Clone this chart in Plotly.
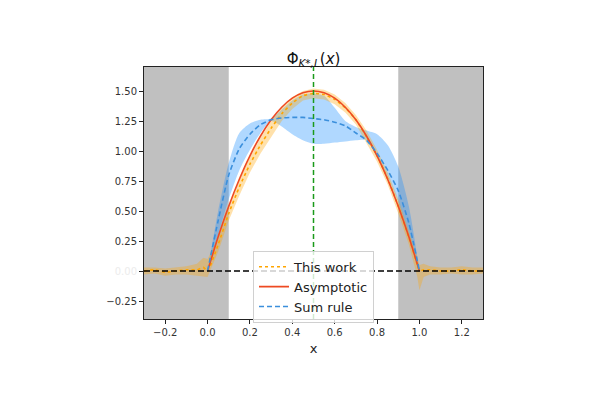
import plotly.graph_objects as go

# ---------------- data ----------------
# "This work" (orange): central curve and its band
tw_x = [-0.3, -0.25, -0.2, -0.15, -0.1, -0.05, -0.02, 0.0, 0.05, 0.1, 0.15, 0.2, 0.25,
        0.3, 0.35, 0.4, 0.45, 0.5, 0.55, 0.6, 0.65, 0.7, 0.75, 0.8, 0.85, 0.9, 0.95,
        0.99, 1.0, 1.02, 1.05, 1.1, 1.15, 1.2, 1.25, 1.3]
tw_mid = [0.00, 0.01, -0.01, 0.00, 0.01, 0.01, 0.03, 0.00, 0.22, 0.48, 0.70, 0.89, 1.05,
          1.19, 1.31, 1.40, 1.46, 1.48, 1.47, 1.43, 1.36, 1.26, 1.12, 0.96, 0.77, 0.54, 0.28,
          0.05, 0.00, 0.01, 0.01, 0.00, 0.00, 0.01, 0.00, 0.00]
tw_up = [0.03, 0.03, 0.02, 0.03, 0.04, 0.06, 0.11, 0.10, 0.28, 0.54, 0.76, 0.95, 1.11,
         1.25, 1.36, 1.45, 1.50, 1.52, 1.51, 1.47, 1.40, 1.30, 1.17, 1.01, 0.82, 0.60, 0.34,
         0.12, 0.05, 0.06, 0.04, 0.03, 0.03, 0.04, 0.03, 0.03]
tw_lo = [-0.03, -0.02, -0.04, -0.03, -0.03, -0.04, -0.05, -0.05, 0.16, 0.42, 0.63, 0.82, 0.98,
         1.12, 1.25, 1.35, 1.42, 1.44, 1.43, 1.39, 1.32, 1.22, 1.07, 0.91, 0.72, 0.48, 0.22,
         -0.05, -0.16, -0.05, -0.03, -0.03, -0.02, -0.03, -0.03, -0.02]

# Asymptotic (red)
as_x = [0.0, 0.05, 0.1, 0.15, 0.2, 0.25, 0.3, 0.35, 0.4, 0.45, 0.5,
        0.55, 0.6, 0.65, 0.7, 0.75, 0.8, 0.85, 0.9, 0.95, 1.0]
as_y = [0.0, 0.285, 0.54, 0.765, 0.96, 1.125, 1.26, 1.365, 1.44, 1.485, 1.5,
        1.485, 1.44, 1.365, 1.26, 1.125, 0.96, 0.765, 0.54, 0.285, 0.0]

# Sum rule (blue): central curve and band
sr_x = as_x
sr_mid = [0.0, 0.42, 0.80, 1.02, 1.14, 1.22, 1.26, 1.275, 1.28, 1.28, 1.27,
          1.26, 1.24, 1.21, 1.15, 1.09, 0.98, 0.84, 0.67, 0.40, 0.0]
sr_up = [0.0, 0.50, 0.90, 1.15, 1.23, 1.26, 1.27, 1.345, 1.42, 1.47, 1.48,
         1.46, 1.36, 1.25, 1.20, 1.17, 1.14, 1.05, 0.87, 0.54, 0.0]
sr_lo = [0.0, 0.30, 0.60, 0.84, 1.01, 1.15, 1.25, 1.205, 1.14, 1.09, 1.06,
         1.06, 1.07, 1.08, 1.09, 1.09, 0.95, 0.78, 0.57, 0.30, 0.0]

excluded_regions = [(-0.3, 0.1), (0.9, 1.3)]
x_mid_line = 0.5
y_zero_line = 0.0

x_ticks = [-0.2, 0.0, 0.2, 0.4, 0.6, 0.8, 1.0, 1.2]
x_tick_text = ["\u22120.2", "0.0", "0.2", "0.4", "0.6", "0.8", "1.0", "1.2"]
y_ticks = [-0.25, 0.0, 0.25, 0.5, 0.75, 1.0, 1.25, 1.5]
y_tick_text = ["\u22120.25", "<span style='color:#ececec'>0.00</span>", "0.25", "0.50",
               "0.75", "1.00", "1.25", "1.50"]

# ---------------- figure ----------------
ORANGE = "#ffa500"
RED = "#ee4a22"
BLUE = "#3b8fdc"

fig = go.Figure()

# Sum-rule band
fig.add_trace(go.Scatter(x=sr_x, y=sr_up, mode="lines", line=dict(width=0, shape="spline", smoothing=0.7),
                         showlegend=False, hoverinfo="skip"))
fig.add_trace(go.Scatter(x=sr_x, y=sr_lo, mode="lines", line=dict(width=0, shape="spline", smoothing=0.7),
                         fill="tonexty", fillcolor="rgba(30,144,255,0.35)",
                         showlegend=False, hoverinfo="skip"))
# This-work band
fig.add_trace(go.Scatter(x=tw_x, y=tw_up, mode="lines", line=dict(width=0),
                         showlegend=False, hoverinfo="skip"))
fig.add_trace(go.Scatter(x=tw_x, y=tw_lo, mode="lines", line=dict(width=0),
                         fill="tonexty", fillcolor="rgba(255,165,0,0.33)",
                         showlegend=False, hoverinfo="skip"))

# Lines
fig.add_trace(go.Scatter(x=tw_x, y=tw_mid, mode="lines", name="This work",
                         line=dict(color=ORANGE, width=1.6, dash="dot", shape="spline", smoothing=0.5)))
fig.add_trace(go.Scatter(x=as_x, y=as_y, mode="lines", name="Asymptotic",
                         line=dict(color=RED, width=1.6, shape="spline", smoothing=0.6)))
fig.add_trace(go.Scatter(x=sr_x, y=sr_mid, mode="lines", name="Sum rule",
                         line=dict(color=BLUE, width=1.6, dash="5px,3px", shape="spline", smoothing=0.6)))

shapes = []
for (a, b) in excluded_regions:
    shapes.append(dict(type="rect", xref="x", yref="paper", x0=a, x1=b, y0=0, y1=1,
                       fillcolor="#c0c0c0", line=dict(width=0), layer="below"))
shapes.append(dict(type="line", xref="x", yref="paper", x0=x_mid_line, x1=x_mid_line, y0=0, y1=1,
                   line=dict(color="#1a9a1a", width=1.5, dash="5px,3px"), layer="above"))
shapes.append(dict(type="line", xref="paper", yref="y", x0=0, x1=1, y0=y_zero_line, y1=y_zero_line,
                   line=dict(color="black", width=1.5, dash="6px,3px"), layer="above"))
fig.update_layout(shapes=shapes)

fig.update_layout(
    width=615, height=410,
    margin=dict(l=136, r=140, t=59, b=99),
    paper_bgcolor="white", plot_bgcolor="white",
    font=dict(family="DejaVu Sans", color="#222"),
    title=dict(text="\u03a6<sub><i>K</i>*<i>,L</i></sub>(<i>x</i>)",
               x=0.5, xref="paper", xanchor="center", y=1, yref="paper", yanchor="bottom",
               pad=dict(b=3), font=dict(size=15, color="#111")),
    xaxis=dict(range=[-0.3, 1.3], tickvals=x_ticks, ticktext=x_tick_text,
               showgrid=False, zeroline=False, showline=True, linecolor="#222", linewidth=1,
               mirror=True, ticks="outside", ticklen=4, tickcolor="#222",
               tickfont=dict(size=10, color="#333"),
               title=dict(text="x", font=dict(size=13, color="#222"), standoff=6)),
    yaxis=dict(range=[-0.4, 1.7], tickvals=y_ticks, ticktext=y_tick_text,
               showgrid=False, zeroline=False, showline=True, linecolor="#222", linewidth=1,
               mirror=True, ticks="outside", ticklen=4, tickcolor="#222",
               tickfont=dict(size=10, color="#333")),
    legend=dict(x=0.5, xanchor="center", y=-0.015, yanchor="bottom", traceorder="normal",
                bgcolor="rgba(255,255,255,0.8)", bordercolor="#d0d0d0", borderwidth=1,
                font=dict(size=13, color="#222"), tracegroupgap=0, itemwidth=30),
    showlegend=True,
)

fig.write_html("out.html")
